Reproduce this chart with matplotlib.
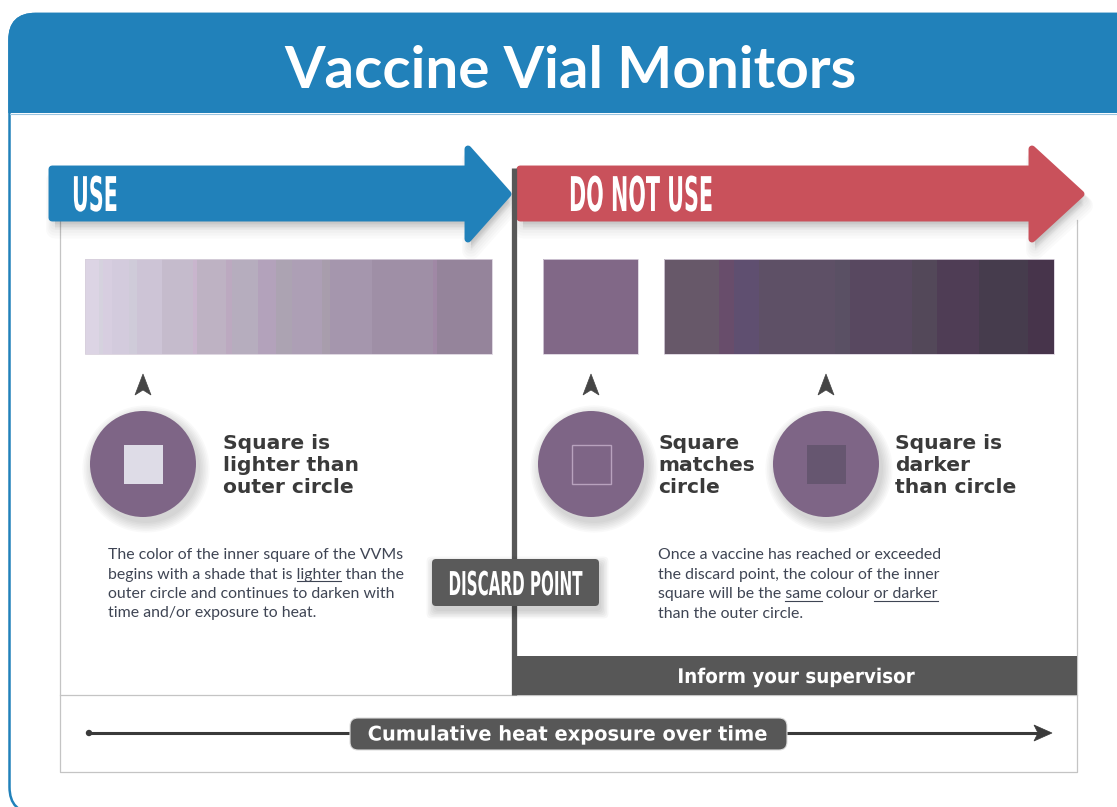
import matplotlib
matplotlib.use("Agg")
import matplotlib.pyplot as plt
from matplotlib.patches import FancyBboxPatch, Polygon, Circle, Rectangle
from matplotlib.patheffects import AbstractPathEffect
from matplotlib.transforms import Affine2D
from matplotlib.font_manager import FontProperties

# ---------------- content ----------------
TITLE = "Vaccine Vial Monitors"
USE_LABEL = "USE"
DONT_LABEL = "DO NOT USE"
DISCARD_LABEL = "DISCARD POINT"
SUPERVISOR_LABEL = "Inform your supervisor"
TIMELINE_LABEL = "Cumulative heat exposure over time"

# colour steps of the inner square before the discard point (relative widths)
use_strip_widths = [14, 4, 9, 17, 8, 25, 31, 4, 29, 6, 26, 18, 16, 30, 8, 42, 61, 4, 55]
use_strip_colors = ["#DCD4E4", "#D5D2DE", "#D7CEE0", "#D3CBDD", "#CFCBD9", "#CDC4D6",
                    "#C5BBCC", "#C9B5CD", "#BEB2C3", "#BCA9C0", "#B6ADBE", "#B3A2BB",
                    "#ACA3B2", "#AD9FB5", "#A89DAC", "#A596AD", "#9F8FA6", "#A088A5",
                    "#95849B"]
# colour at the discard point
match_color = "#816887"
# colour steps after the discard point (relative widths)
dark_strip_widths = [55, 15, 25, 76, 15, 63, 25, 42, 49, 26]
dark_strip_colors = ["#675869", "#684D6B", "#5F4F70", "#5E5066", "#5A5064",
                     "#584860", "#534859", "#4F3D55", "#463C4D", "#47344B"]

# VVM examples: inner square style
vvm_circle_color = "#7E6586"
vvm_inner = ["#DEDCE7", None, "#665670"]          # None = outline only
vvm_labels = ["Square is\nlighter than\nouter circle",
              "Square\nmatches\ncircle",
              "Square is\ndarker\nthan circle"]

left_paragraph = ["The color of the inner square of the VVMs",
                  "begins with a shade that is lighter than the",
                  "outer circle and continues to darken with",
                  "time and/or exposure to heat."]
left_underline = [(1, "begins with a shade that is lighter")]
left_underline_words = ["lighter"]
right_paragraph = ["Once a vaccine has reached or exceeded",
                   "the discard point, the colour of the inner",
                   "square will be the same colour or darker",
                   "than the outer circle."]
right_underline = [(2, "square will be the same"), (2, "square will be the same colour or darker")]
right_underline_words = ["same", "or darker"]

# ---------------- helpers ----------------
BLUE = "#2181BA"
RED = "#C9515B"
DGRAY = "#575757"
TXT = "#3A3A3A"
PARA = "#3F4554"


class Stretch(AbstractPathEffect):
    """Draw text glyphs stretched (gives a tall, condensed-looking face)."""
    def __init__(self, sx=1.0, sy=1.0, anchor="left"):
        super().__init__()
        self.sx = sx
        self.sy = sy
        self.anchor = anchor

    def draw_path(self, renderer, gc, tpath, affine, rgbFace=None):
        cx = 0.0
        if self.anchor == "center":
            ext = tpath.get_extents()
            cx = (ext.x0 + ext.x1) / 2.0
        pre = Affine2D().translate(-cx, 0).scale(self.sx, self.sy).translate(cx, 0)
        renderer.draw_path(gc, tpath, pre + affine, rgbFace)


fig = plt.figure(figsize=(11.17, 8.07), dpi=100)
ax = fig.add_axes([0, 0, 1, 1])
ax.set_xlim(0, 1117)
ax.set_ylim(807, 0)
ax.axis("off")

# ---------------- outer frame + header ----------------
frame = FancyBboxPatch((9.5, 14), 1160, 799, boxstyle="round,pad=0,rounding_size=26",
                       facecolor="white", edgecolor=BLUE, linewidth=1.8, zorder=0)
ax.add_patch(frame)
header = FancyBboxPatch((9.5, 14), 1160, 799, boxstyle="round,pad=0,rounding_size=26",
                        facecolor=BLUE, edgecolor=BLUE, linewidth=1.8, zorder=1)
ax.add_patch(header)
clip = Rectangle((0, 0), 1117, 113, transform=ax.transData)
header.set_clip_path(clip)
ax.plot([10, 1117], [113.5, 113.5], color="#9CC5E0", lw=0.8, zorder=1)
ax.text(570, 88, TITLE, color="white", fontsize=42, fontfamily="Lato",
        fontweight="bold", ha="center", va="baseline", zorder=3)

# ---------------- panel ----------------
pc = "#C4C4C4"
ax.plot([60, 60, 1077, 1077], [220, 772, 772, 220], color=pc, lw=0.9, zorder=1)
ax.plot([60, 1077], [695, 695], color=pc, lw=0.9, zorder=1)

# arrows
def arrow(x0, hx, tx, color):
    pts = [(x0 + 2, 169), (hx + 2, 169), (hx + 2, 149), (tx - 3, 194),
           (hx + 2, 239), (hx + 2, 218), (x0 + 2, 218)]
    for k in range(6):
        sh = [(x + 3, y + 4 + k * 1.5) for x, y in pts]
        ax.add_patch(Polygon(sh, closed=True, facecolor="black", edgecolor="black",
                             lw=3 + k * 2, joinstyle="round", alpha=0.018, zorder=2))
    ax.add_patch(Polygon(pts, closed=True, facecolor=color, edgecolor=color, lw=5,
                         joinstyle="round", zorder=3))

arrow(50, 466, 511, BLUE)
arrow(518, 1030, 1084, RED)
ax.text(72, 211, USE_LABEL, color="white", fontsize=14.9, fontfamily="DejaVu Sans",
        fontweight="bold", ha="left", va="baseline", zorder=4,
        path_effects=[Stretch(1.0, 2.31)])
ax.text(569, 211, DONT_LABEL, color="white", fontsize=14.9, fontfamily="DejaVu Sans",
        fontweight="bold", ha="left", va="baseline", zorder=4,
        path_effects=[Stretch(1.0, 2.31)])

# discard line
ax.plot([514, 514], [168, 695], color=DGRAY, lw=3.8, solid_capstyle="butt", zorder=5)

# ---------------- colour strips ----------------
def strips(x0, x1, widths, colors):
    total = float(sum(widths))
    lefts, ws = [], []
    acc = x0
    for w in widths:
        ww = (x1 - x0) * w / total
        lefts.append(acc)
        ws.append(ww)
        acc += ww
    ax.bar(lefts, [95] * len(lefts), width=ws, bottom=259, align="edge",
           color=colors, edgecolor="none", linewidth=0, zorder=2)
    ax.add_patch(Rectangle((x0, 259), x1 - x0, 95, facecolor="none",
                           edgecolor="#D8D0DC", lw=0.6, zorder=2))

strips(85, 492, use_strip_widths, use_strip_colors)
strips(543, 638, [1], [match_color])
strips(664, 1054, dark_strip_widths, dark_strip_colors)

# ---------------- pointer markers + VVM circles ----------------
vvm_x = [143, 591, 826]
label_x = [223, 658, 895]
for cx, inner, lab, lx in zip(vvm_x, vvm_inner, vvm_labels, label_x):
    # pointer
    ax.add_patch(Polygon([(cx, 374), (cx + 8, 395), (cx, 390), (cx - 8, 395)],
                         closed=True, facecolor="#454545", edgecolor="#454545",
                         lw=0.5, zorder=3))
    cy, r = 464, 53
    for k in range(7):
        ax.add_patch(Circle((cx + 3, cy + 5), r + 1 + k * 1.6, facecolor="black",
                            edgecolor="none", alpha=0.022, zorder=2))
    ax.add_patch(Circle((cx, cy), r, facecolor=vvm_circle_color, edgecolor="none",
                        zorder=3))
    s = 39
    if inner is None:
        ax.add_patch(Rectangle((cx - s / 2, cy - s / 2), s, s, facecolor="none",
                               edgecolor="#B8A2BE", lw=1.0, zorder=4))
    else:
        ax.add_patch(Rectangle((cx - s / 2, cy - s / 2), s, s, facecolor=inner,
                               edgecolor="none", zorder=4))
    for i, line in enumerate(lab.split("\n")):
        ax.text(lx, 449 + 22 * i, line, color=TXT, fontsize=14.6,
                fontfamily="DejaVu Sans", fontweight="bold", ha="left",
                va="baseline", zorder=4)

# ---------------- paragraphs ----------------
para_size = 11.4
for i, line in enumerate(left_paragraph):
    ax.text(108, 559 + 19.5 * i, line, color=PARA, fontsize=para_size,
            fontfamily="Lato", ha="left", va="baseline", zorder=4)
for i, line in enumerate(right_paragraph):
    ax.text(658, 559 + 19.5 * i, line, color=PARA, fontsize=para_size,
            fontfamily="Lato", ha="left", va="baseline", zorder=4)

# ---------------- discard point box ----------------
for k in range(6):
    ax.add_patch(FancyBboxPatch((432 + 2, 559 + 5), 167, 47,
                                boxstyle="round,pad=%g,rounding_size=5" % (k * 1.5),
                                facecolor="black", edgecolor="none", alpha=0.03,
                                zorder=5))
ax.add_patch(FancyBboxPatch((432, 559), 167, 47, boxstyle="round,pad=0,rounding_size=4",
                            facecolor="#5A5A5A", edgecolor="none", zorder=6))
ax.text(515.5, 595, DISCARD_LABEL, color="white", fontsize=10.9,
        fontfamily="DejaVu Sans", fontweight="bold", ha="center", va="baseline",
        zorder=7, path_effects=[Stretch(1.0, 2.17)])

# ---------------- supervisor bar ----------------
ax.add_patch(Rectangle((516, 656), 561, 39, facecolor=DGRAY, edgecolor="none", zorder=5))
ax.text(796, 683, SUPERVISOR_LABEL, color="white", fontsize=13.2,
        fontfamily="DejaVu Sans", fontweight="bold", ha="center", va="baseline",
        zorder=7, path_effects=[Stretch(1.0, 1.1)])

# ---------------- timeline ----------------
ax.plot([89, 1040], [733, 733], color="#3A3A3A", lw=2.2, zorder=3)
ax.add_patch(Circle((89, 733), 3.2, facecolor="#3A3A3A", edgecolor="none", zorder=3))
ax.add_patch(Polygon([(1034, 725), (1052, 733), (1034, 741), (1038, 733)], closed=True,
                     facecolor="#3A3A3A", edgecolor="#3A3A3A", lw=0.5, zorder=3))
ax.add_patch(FancyBboxPatch((350, 718), 437, 32, boxstyle="round,pad=0,rounding_size=8",
                            facecolor=DGRAY, edgecolor="#DDDDDD", lw=0.8, zorder=4))
ax.text(568.5, 740.5, TIMELINE_LABEL, color="white", fontsize=14.0,
        fontfamily="DejaVu Sans", fontweight="bold", ha="center", va="baseline",
        zorder=5, path_effects=[Stretch(1.0, 1.036)])

# ---------------- underlines ----------------
fig.canvas.draw()
renderer = fig.canvas.get_renderer()
prop = FontProperties(family="Lato", size=para_size)

def underline(x0, line_idx, upto, word):
    w_full = renderer.get_text_width_height_descent(upto, prop, ismath=False)[0]
    w_word = renderer.get_text_width_height_descent(word, prop, ismath=False)[0]
    y = 559 + 19.5 * line_idx + 2.5
    ax.plot([x0 + w_full - w_word, x0 + w_full], [y, y], color=PARA, lw=0.8, zorder=4)

for (li, upto), word in zip(left_underline, left_underline_words):
    underline(108, li, upto, word)
for (li, upto), word in zip(right_underline, right_underline_words):
    underline(658, li, upto, word)

fig.savefig("out.png", dpi=100)
